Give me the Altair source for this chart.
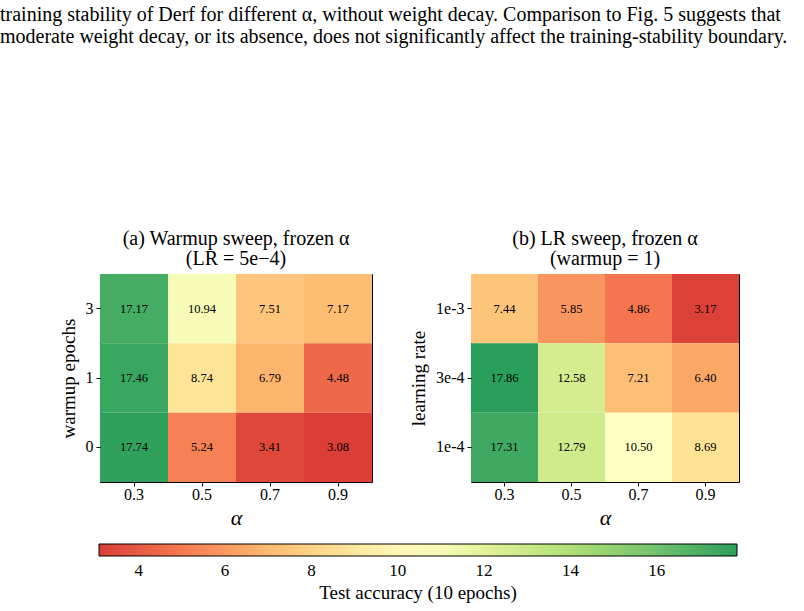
import altair as alt
import pandas as pd

alphas = ["0.3", "0.5", "0.7", "0.9"]

warmups = ["3", "1", "0"]
acc_a = [
    [17.17, 10.94, 7.51, 7.17],
    [17.46, 8.74, 6.79, 4.48],
    [17.74, 5.24, 3.41, 3.08],
]

lrs = ["1e-3", "3e-4", "1e-4"]
acc_b = [
    [7.44, 5.85, 4.86, 3.17],
    [17.86, 12.58, 7.21, 6.40],
    [17.31, 12.79, 10.50, 8.69],
]

caption = [
    "training stability of Derf for different α, without weight decay. Comparison to Fig. 5 suggests that",
    "moderate weight decay, or its absence, does not significantly affect the training-stability boundary.",
]

cbar_ticks = [4, 6, 8, 10, 12, 14, 16]
vmin, vmax = 3.08, 17.86

# RdYlGn ColorBrewer nodes (truncated ends), lightly blended toward white
rdylgn = ["#d73027", "#f46d43", "#fdae61", "#fee08b", "#ffffbf",
          "#d9ef8b", "#a6d96a", "#66bd63", "#1a9850"]


def soften(hx, a=0.93):
    r, g, b = (int(hx[i:i + 2], 16) for i in (1, 3, 5))
    f = lambda c: int(round(c * a + 255 * (1 - a)))
    return "#{:02x}{:02x}{:02x}".format(f(r), f(g), f(b))


cmap = [soften(c) for c in rdylgn]

SERIF = "Liberation Serif"


def long_df(rows, vals):
    recs = []
    for r, row in zip(rows, vals):
        for a, v in zip(alphas, row):
            recs.append({"alpha": a, "row": r, "acc": v})
    return pd.DataFrame(recs)


df_a = long_df(warmups, acc_a)
df_b = long_df(lrs, acc_b)

color_scale = alt.Scale(domain=[vmin, vmax], range=cmap, interpolate="rgb")


def panel(df, rows, ytitle, title_lines, width, show_legend):
    base = alt.Chart(df)
    legend = None
    if show_legend:
        legend = alt.Legend(
            title="Test accuracy (10 epochs)",
            orient="none",
            direction="horizontal",
            legendX=-1,
            legendY=270,
            gradientLength=638,
            gradientThickness=12,
            gradientStrokeColor="black",
            gradientStrokeWidth=1,
            values=cbar_ticks,
            labelFont=SERIF,
            labelFontSize=17,
            labelColor="black",
            labelOffset=7,
            titleFont=SERIF,
            titleFontSize=19,
            titleFontWeight="normal",
            titleColor="black",
            titleOrient="bottom",
            titleAnchor="middle",
            titlePadding=5,
            titleLimit=0,
            labelOverlap=False,
        )
    rect = base.mark_rect().encode(
        x=alt.X("alpha:O", sort=alphas, title="α",
                axis=alt.Axis(labelAngle=0)),
        y=alt.Y("row:O", sort=rows, title=ytitle),
        color=alt.Color("acc:Q", scale=color_scale, legend=legend),
    )
    text = base.mark_text(font=SERIF, fontSize=12.5, color="black").encode(
        x=alt.X("alpha:O", sort=alphas),
        y=alt.Y("row:O", sort=rows),
        text=alt.Text("acc:Q", format=".2f"),
    )
    return (rect + text).properties(
        width=width,
        height=208,
        title=alt.TitleParams(text=title_lines, font=SERIF, fontSize=20,
                              fontWeight="normal", color="black",
                              lineHeight=20, offset=5, anchor="middle"),
    )


pa = panel(df_a, warmups, "warmup epochs",
           ["(a) Warmup sweep, frozen α", "(LR = 5e−4)"], 272, True)
pb = panel(df_b, lrs, "learning rate",
           ["(b) LR sweep, frozen α", "(warmup = 1)"], 268, False)

chart = (
    alt.hconcat(pa, pb, spacing=36)
    .resolve_scale(color="shared")
    .properties(
        background="white",
        padding={"left": 0, "top": 4, "right": 0, "bottom": 0},
        title=alt.TitleParams(text=caption, font=SERIF, fontSize=20,
                              fontWeight="normal", color="black",
                              anchor="start", frame="group", dx=-100,
                              lineHeight=22, offset=182),
    )
    .configure_view(stroke="black", strokeWidth=1)
    .configure_axis(
        labelFont=SERIF, labelFontSize=16, labelColor="black",
        titleFont=SERIF, titleFontSize=19, titleFontWeight="normal",
        titleColor="black", domain=False, tickColor="black", tickSize=4,
        grid=False, labelPadding=3,
    )
    .configure_axisX(titleFontSize=22, titleFontStyle="italic",
                     titlePadding=5, labelPadding=0)
    .configure_axisY(titlePadding=7)
)

chart.save("out.html", embed_options={"renderer": "svg", "actions": False})
